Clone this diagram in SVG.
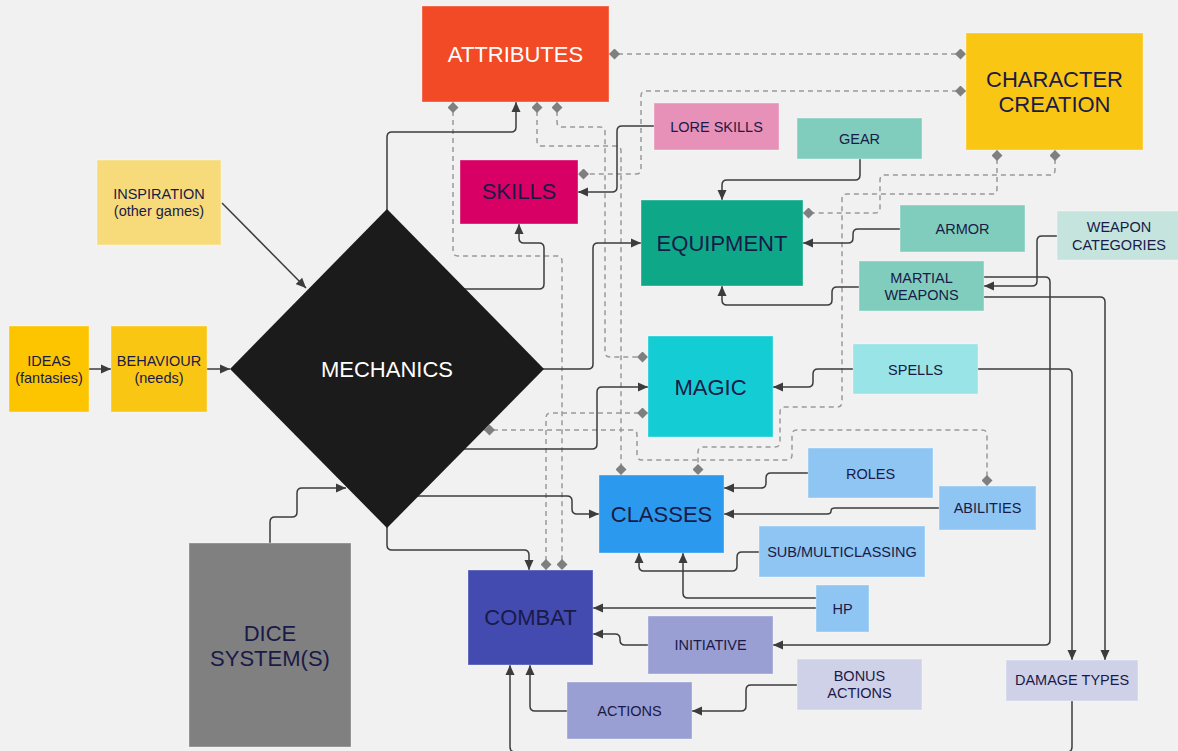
<svg xmlns="http://www.w3.org/2000/svg" width="1178" height="751" viewBox="0 0 1178 751">
<style>
.n{stroke:#ffffff;stroke-opacity:0.35;stroke-width:1}
.t{font-family:"Liberation Sans",Arial,sans-serif;fill:#1a1a48;text-anchor:middle;dominant-baseline:central}
.L{font-size:22px}
.S{font-size:14.5px}
.w{fill:#ffffff}
.c{fill:none;stroke:#3c3c3c;stroke-width:1.5;marker-end:url(#arr)}
.d{fill:none;stroke:#999999;stroke-width:1.5;stroke-dasharray:5 4;marker-start:url(#dia);marker-end:url(#dia)}
</style>
<defs>
<marker id="arr" viewBox="0 0 10 10" markerWidth="10" markerHeight="10" refX="10" refY="5" orient="auto" markerUnits="userSpaceOnUse">
<path d="M0,0.5 L10,5 L0,9.5 Z" fill="#3c3c3c"/>
</marker>
<marker id="dia" viewBox="0 0 11 11" markerWidth="11" markerHeight="11" refX="11" refY="5.5" orient="auto-start-reverse" markerUnits="userSpaceOnUse">
<path d="M0,5.5 L5.5,0 L11,5.5 L5.5,11 Z" fill="#7f7f7f"/>
</marker>
</defs>
<rect width="1178" height="751" fill="#f1f1f1"/>

<g id="connectors">
<path class="d" d="M609,54 H966"/>
<path class="d" d="M966,91 H646 Q641,91 641,96 V169 Q641,174 636,174 H578"/>
<path class="d" d="M453,102 V251 Q453,256 458,256 H557 Q562,256 562,261 V570"/>
<path class="d" d="M537,102 V141 Q537,146 542,146 H616 Q621,146 621,151 V475"/>
<path class="d" d="M557,102 V122 Q557,127 562,127 H600 Q605,127 605,132 V352 Q605,357 610,357 H648"/>
<path class="d" d="M997,150 V189 Q997,194 992,194 H847 Q842,194 842,199 V402 Q842,407 837,407 H785 Q780,407 780,412 V442 Q780,447 775,447 H703 Q698,447 698,452 V475"/>
<path class="d" d="M1055,150 V170 Q1055,175 1050,175 H885 Q880,175 880,180 V208 Q880,213 875,213 H803"/>
<path class="d" d="M484,430 H632 Q637,430 637,435 V455 Q637,460 642,460 H787 Q792,460 792,455 V435 Q792,430 797,430 H982 Q987,430 987,435 V486"/>
<path class="d" d="M648,413 H551 Q546,413 546,418 V570"/>

<path class="c" d="M387,215 V137 Q387,132 392,132 H511 Q516,132 516,127 V102"/>
<path class="c" d="M460,289 H539 Q544,289 544,284 V248 Q544,243 539,243 H524 Q519,243 519,238 V224"/>
<path class="c" d="M540,369 H588 Q593,369 593,364 V248 Q593,243 598,243 H641"/>
<path class="c" d="M460,449 H592 Q597,449 597,444 V392 Q597,387 602,387 H648"/>
<path class="c" d="M410,496 H567 Q572,496 572,501 V509 Q572,514 577,514 H599"/>
<path class="c" d="M387,525 V545 Q387,550 392,550 H524 Q529,550 529,555 V570"/>
<path class="c" d="M222,203 L306,288"/>
<path class="c" d="M89,369 H111"/>
<path class="c" d="M207,369 H230"/>
<path class="c" d="M270,543 V522 Q270,517 275,517 H292 Q297,517 297,512 V493 Q297,488 302,488 H346"/>
<path class="c" d="M654,126 H622 Q617,126 617,131 V187 Q617,192 612,192 H578"/>
<path class="c" d="M860,159 V175 Q860,180 855,180 H727 Q722,180 722,185 V200"/>
<path class="c" d="M900,229 H858 Q853,229 853,234 V238 Q853,243 848,243 H803"/>
<path class="c" d="M859,287 H837 Q832,287 832,292 V300 Q832,305 827,305 H727 Q722,305 722,300 V286"/>
<path class="c" d="M1057,236 H1042 Q1037,236 1037,241 V281 Q1037,286 1032,286 H984"/>
<path class="c" d="M984,277 H1045 Q1050,277 1050,282 V640 Q1050,645 1045,645 H773"/>
<path class="c" d="M984,297 H1100 Q1105,297 1105,302 V660"/>
<path class="c" d="M853,369 H818 Q813,369 813,374 V382 Q813,387 808,387 H773"/>
<path class="c" d="M978,369 H1067 Q1072,369 1072,374 V660"/>
<path class="c" d="M808,473 H771 Q766,473 766,478 V483 Q766,488 761,488 H724"/>
<path class="c" d="M939,508 H835 Q831,508 831,511 Q831,514 827,514 H724"/>
<path class="c" d="M759,552 H742 Q737,552 737,557 V566 Q737,571 732,571 H644 Q639,571 639,566 V553"/>
<path class="c" d="M816,598 H688 Q683,598 683,593 V553"/>
<path class="c" d="M816,608 H593"/>
<path class="c" d="M648,645 H625 Q620,645 620,640 V639 Q620,634 615,634 H593"/>
<path class="c" d="M567,711 H535 Q530,711 530,706 V665"/>
<path class="c" d="M797,685 H751 Q746,685 746,690 V706 Q746,711 741,711 H692"/>
<path class="c" d="M1072,701 V747 Q1072,752 1067,752 H515 Q510,752 510,747 V665"/>
</g>

<g id="attributes"><rect class="n" x="422" y="6" width="187" height="96" fill="#f24a26"/><text class="t L w" x="515.5" y="54">ATTRIBUTES</text></g>
<g id="character-creation"><rect class="n" x="966" y="33" width="177" height="117" fill="#f9c613"/><text class="t L" x="1054.5" y="79">CHARACTER</text><text class="t L" x="1054.5" y="104">CREATION</text></g>
<g id="lore-skills"><rect class="n" x="654" y="103" width="125" height="47" fill="#e891b8"/><text class="t S" x="716.5" y="126.5">LORE SKILLS</text></g>
<g id="gear"><rect class="n" x="797" y="118" width="125" height="41" fill="#80cdbd"/><text class="t S" x="859.5" y="139">GEAR</text></g>
<g id="skills"><rect class="n" x="460" y="160" width="118" height="64" fill="#d80064"/><text class="t L" x="519" y="191">SKILLS</text></g>
<g id="equipment"><rect class="n" x="641" y="200" width="162" height="86" fill="#0ea888"/><text class="t L" x="722" y="243">EQUIPMENT</text></g>
<g id="armor"><rect class="n" x="900" y="205" width="125" height="47" fill="#80cdbd"/><text class="t S" x="962.5" y="229">ARMOR</text></g>
<g id="weapon-categories"><rect class="n" x="1057" y="211" width="125" height="49" fill="#c4e4dd"/><text class="t S" x="1119" y="227">WEAPON</text><text class="t S" x="1119" y="245">CATEGORIES</text></g>
<g id="martial-weapons"><rect class="n" x="859" y="261" width="125" height="50" fill="#80cdbd"/><text class="t S" x="921.5" y="278">MARTIAL</text><text class="t S" x="921.5" y="295">WEAPONS</text></g>
<g id="inspiration"><rect class="n" x="97" y="160" width="124" height="85" fill="#f7db7a"/><text class="t S" x="159" y="194">INSPIRATION</text><text class="t S" x="159" y="211">(other games)</text></g>
<g id="ideas"><rect class="n" x="9" y="326" width="80" height="86" fill="#fcc500"/><text class="t S" x="49" y="361">IDEAS</text><text class="t S" x="49" y="378">(fantasies)</text></g>
<g id="behaviour"><rect class="n" x="111" y="326" width="96" height="86" fill="#f9c613"/><text class="t S" x="159" y="361">BEHAVIOUR</text><text class="t S" x="159" y="378">(needs)</text></g>
<g id="mechanics"><polygon points="387,209 544,369 387,528 230,369" fill="#1b1b1b"/><text class="t L w" x="387" y="369">MECHANICS</text></g>
<g id="magic"><rect class="n" x="648" y="336" width="125" height="101" fill="#14ccd4"/><text class="t L" x="710.5" y="387">MAGIC</text></g>
<g id="spells"><rect class="n" x="853" y="344" width="125" height="50" fill="#98e4e6"/><text class="t S" x="915.5" y="370">SPELLS</text></g>
<g id="roles"><rect class="n" x="808" y="448" width="125" height="50" fill="#8fc5f2"/><text class="t S" x="870.5" y="474">ROLES</text></g>
<g id="abilities"><rect class="n" x="939" y="486" width="97" height="44" fill="#8fc5f2"/><text class="t S" x="987.5" y="508">ABILITIES</text></g>
<g id="classes"><rect class="n" x="599" y="475" width="125" height="78" fill="#2b9aee"/><text class="t L" x="661.5" y="514">CLASSES</text></g>
<g id="sub-multiclassing"><rect class="n" x="759" y="526" width="166" height="51" fill="#8fc5f2"/><text class="t S" x="842" y="552">SUB/MULTICLASSING</text></g>
<g id="hp"><rect class="n" x="816" y="585" width="53" height="47" fill="#8fc5f2"/><text class="t S" x="842.5" y="609">HP</text></g>
<g id="combat"><rect class="n" x="468" y="570" width="125" height="95" fill="#434bb0"/><text class="t L" x="530.5" y="617">COMBAT</text></g>
<g id="initiative"><rect class="n" x="648" y="616" width="125" height="58" fill="#999fd3"/><text class="t S" x="710.5" y="645">INITIATIVE</text></g>
<g id="bonus-actions"><rect class="n" x="797" y="659" width="125" height="51" fill="#cfd1e8"/><text class="t S" x="859.5" y="676">BONUS</text><text class="t S" x="859.5" y="693">ACTIONS</text></g>
<g id="actions"><rect class="n" x="567" y="682" width="125" height="57" fill="#999fd3"/><text class="t S" x="629.5" y="711">ACTIONS</text></g>
<g id="damage-types"><rect class="n" x="1006" y="660" width="132" height="41" fill="#cfd1e8"/><text class="t S" x="1072" y="680">DAMAGE TYPES</text></g>
<g id="dice-systems"><rect class="n" x="189" y="543" width="162" height="204" fill="#808080"/><text class="t L" x="270" y="633">DICE</text><text class="t L" x="270" y="658">SYSTEM(S)</text></g>
</svg>
